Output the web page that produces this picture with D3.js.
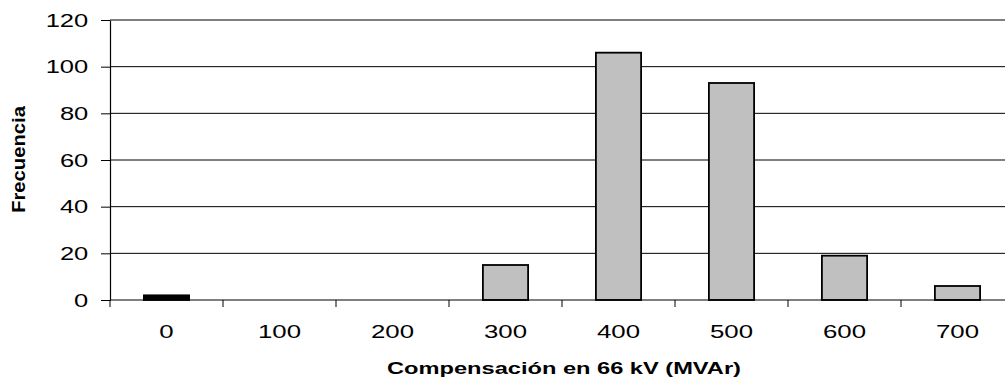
<!DOCTYPE html>
<html>
<head>
<meta charset="utf-8">
<script src="https://cdn.jsdelivr.net/npm/d3@7"></script>
<style>
  html, body { margin: 0; padding: 0; background: #fff; }
  svg { display: block; }
  text { font-family: Arial, "Liberation Sans", sans-serif; fill: #000; }
</style>
</head>
<body>
<svg id="chart" width="1005" height="381"></svg>
<script>
// Frequency histogram of 66 kV compensation (MVAr)
const categories = ["0", "100", "200", "300", "400", "500", "600", "700"];
const frequencies = [2, 0, 0, 15, 106, 93, 19, 6];
const yTicks = [0, 20, 40, 60, 80, 100, 120];

const svg = d3.select("#chart");
const plotLeft = 110, plotRight = 1014, plotTop = 20, plotBottom = 300;

const x = d3.scaleBand().domain(categories).range([plotLeft, plotRight]).padding(0);
const y = d3.scaleLinear().domain([0, 120]).range([plotBottom, plotTop]);

const data = categories.map((c, i) => ({ cat: c, value: frequencies[i] }));

// horizontal gridlines
svg.append("g")
  .selectAll("line")
  .data(yTicks.filter(d => d > 0))
  .join("line")
  .attr("x1", plotLeft).attr("x2", 1005)
  .attr("y1", d => y(d)).attr("y2", d => y(d))
  .attr("stroke", "#000").attr("stroke-width", 1);

// bars (the first class is shown solid black)
const barFrac = 0.4;
svg.append("g")
  .selectAll("rect")
  .data(data.filter(d => d.value > 0))
  .join("rect")
  .attr("x", d => x(d.cat) + x.bandwidth() * (1 - barFrac) / 2)
  .attr("width", x.bandwidth() * barFrac)
  .attr("y", d => y(d.value))
  .attr("height", d => y(0) - y(d.value))
  .attr("fill", d => d.cat === categories[0] ? "#000" : "#c0c0c0")
  .attr("stroke", "#000")
  .attr("stroke-width", 1.8);

// y axis
const yAxis = svg.append("g")
  .attr("transform", `translate(${plotLeft},0)`)
  .call(d3.axisLeft(y).tickValues(yTicks).tickSize(9).tickSizeOuter(0).tickFormat(d3.format("d")));
yAxis.select(".domain").attr("stroke", "#000").attr("stroke-width", 1.2);
yAxis.selectAll(".tick line").attr("stroke", "#000");
yAxis.selectAll(".tick text")
  .attr("x", 0)
  .attr("dy", "0.35em")
  .attr("transform", "translate(-21.7,0) scale(1.42,1)")
  .style("font-size", "18px")
  .style("font-family", "Arial, 'Liberation Sans', sans-serif");

// x axis line
svg.append("line")
  .attr("x1", plotLeft).attr("x2", 1005)
  .attr("y1", y(0)).attr("y2", y(0))
  .attr("stroke", "#000").attr("stroke-width", 1.2);

// x ticks at category boundaries
svg.append("g")
  .selectAll("line")
  .data(categories)
  .join("line")
  .attr("x1", d => x(d)).attr("x2", d => x(d))
  .attr("y1", y(0)).attr("y2", y(0) + 7)
  .attr("stroke", "#000");

// x tick labels centred in each band
svg.append("g")
  .selectAll("text")
  .data(categories)
  .join("text")
  .attr("text-anchor", "middle")
  .attr("transform", d => `translate(${x(d) + x.bandwidth() / 2},338) scale(1.36,1)`)
  .style("font-size", "19px")
  .text(d => d);

// axis titles
svg.append("text")
  .attr("text-anchor", "middle")
  .attr("transform", "translate(564,374) scale(1.39,1)")
  .style("font-size", "17px")
  .style("font-weight", "bold")
  .text("Compensación en 66 kV (MVAr)");

svg.append("text")
  .attr("text-anchor", "middle")
  .attr("transform", "translate(25,159.5) rotate(-90) scale(1.19,1.05)")
  .style("font-size", "17px")
  .style("font-weight", "bold")
  .text("Frecuencia");
</script>
</body>
</html>
